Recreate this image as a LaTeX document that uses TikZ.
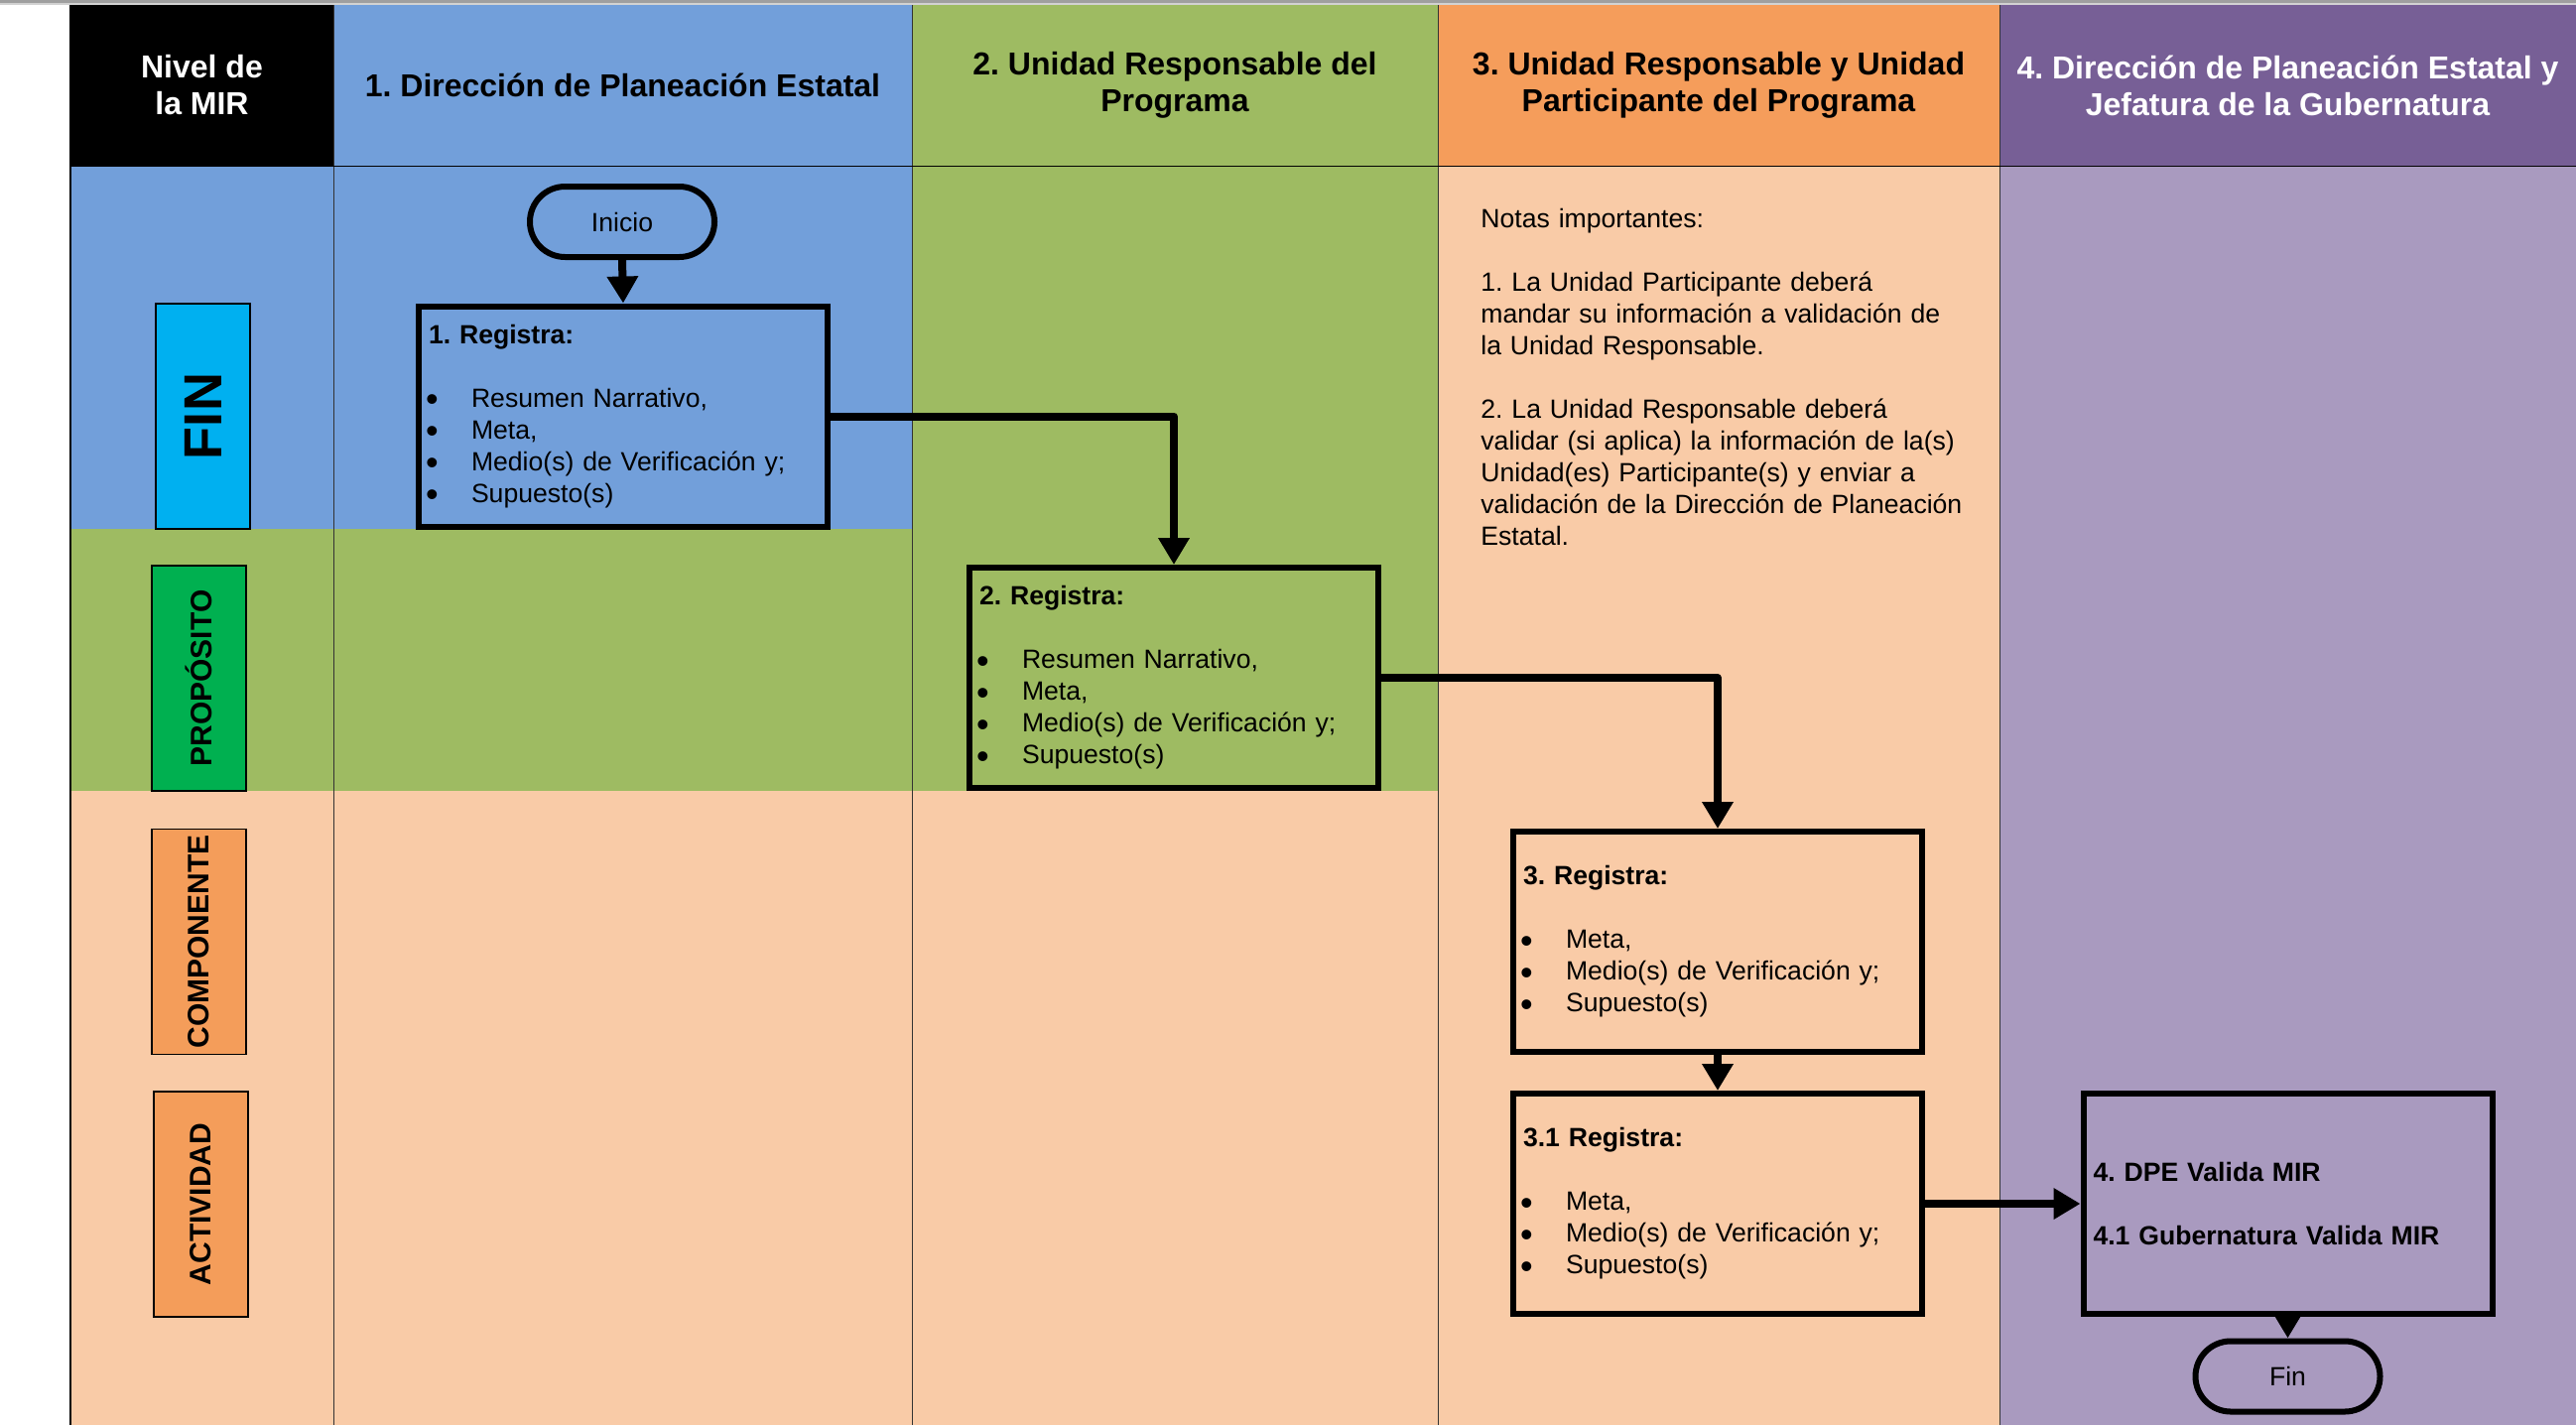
\documentclass[tikz,border=0pt]{standalone}
\usepackage{fontspec}
\setmainfont{Liberation Sans}
\usetikzlibrary{arrows.meta}
\definecolor{hblue}{HTML}{729FDA}
\definecolor{hgreen}{HTML}{9EBB62}
\definecolor{horange}{HTML}{F59D5B}
\definecolor{hpurple}{HTML}{775F96}
\definecolor{peach}{HTML}{F9CBA7}
\definecolor{lav}{HTML}{A99ABF}
\definecolor{cyanbox}{HTML}{00B0F0}
\definecolor{greenbox}{HTML}{00B050}
\definecolor{orangebox}{HTML}{F49D5A}
\newcommand\bitem{\makebox[21.5pt][l]{\hspace*{-1.5pt}\smash{\raisebox{-2.2pt}{\fontsize{18}{16}\selectfont •}}}}
\frenchspacing
\begin{document}
\frenchspacing
\begin{tikzpicture}[x=0.5pt,y=-0.5pt,
  hdr/.style={minimum width=#1, minimum height=81pt, inner sep=0pt, align=center,
    font=\fontsize{16}{18.5}\selectfont\bfseries},
  lab/.style={draw, line width=0.6pt, rotate=90, minimum width=113.5pt, minimum height=47.5pt,
    inner sep=0pt, font=\fontsize{15}{18}\selectfont\bfseries},
  flowbox/.style={draw, line width=3pt, minimum width=206pt, minimum height=111pt,
    text width=196pt, inner xsep=5pt, inner ysep=0pt, align=left,
    font=\fontsize{13.3}{16}\selectfont},
  term/.style={draw, line width=3pt, rounded corners=17.75pt, minimum width=93pt,
    minimum height=35.5pt, inner sep=0pt, font=\fontsize{13.3}{16}\selectfont},
  arr/.style={line width=4pt, -{Triangle[length=13.5pt,width=15pt]}, line join=round},
  divider/.style={line width=0.5pt, black!80}
]
\useasboundingbox (0,0) rectangle (2596,1436);
% top rule
\fill[gray!75] (0,0) rectangle (2596,2.5);
\fill[gray!35] (0,2.5) rectangle (2596,5);
% body backgrounds
\fill[hblue] (71,167) rectangle (919,533);
\fill[hgreen] (919,167) rectangle (1449,797);
\fill[hgreen] (71,533) rectangle (919,797);
\fill[peach] (71,797) rectangle (1449,1436);
\fill[peach] (1449,167) rectangle (2015,1436);
\fill[lav] (2015,167) rectangle (2596,1436);
% header cells
\node[hdr=132.5pt, fill=black, text=white] (h0) at (203.5,86) {Nivel de\\la MIR};
\node[hdr=291.5pt, fill=hblue] (h1) at (627.5,86) {1. Dirección de Planeación Estatal};
\node[hdr=265pt, fill=hgreen] (h2) at (1184,86) {2. Unidad Responsable del\\Programa};
\node[hdr=283pt, fill=horange] (h3) at (1732,86) {3. Unidad Responsable y Unidad\\Participante del Programa};
\node[hdr=290.5pt, fill=hpurple, text=white] (h4) at (2305.5,86) {4. Dirección de Planeación Estatal y\\Jefatura de la Gubernatura};
% grid lines
\draw[line width=0.8pt] (71,5) -- (71,1436);
\foreach \x in {336,919,1449,2015} \draw[divider] (\x,5) -- (\x,1436);
\draw[line width=0.8pt] (71,167.5) -- (2596,167.5);
% level labels
\node[lab, fill=cyanbox, font=\fontsize{27}{30}\selectfont\bfseries] (lfin) at (204.5,419.5) {FIN};
\node[lab, fill=greenbox] (lprop) at (200.5,683.5) {PROPÓSITO};
\node[lab, fill=orangebox] (lcomp) at (200.5,949) {COMPONENTE};
\node[lab, fill=orangebox] (lact) at (202.5,1213.5) {ACTIVIDAD};
% flow
\node[term] (inicio) at (627,223.5) {Inicio};
\node[flowbox] (b1) at (628,419.5) {{\bfseries 1. Registra:}\\[16pt]
\bitem Resumen Narrativo,\\
\bitem Meta,\\
\bitem Medio(s) de Verificación y;\\
\bitem Supuesto(s)};
\node[flowbox] (b2) at (1183,683) {{\bfseries 2. Registra:}\\[16pt]
\bitem Resumen Narrativo,\\
\bitem Meta,\\
\bitem Medio(s) de Verificación y;\\
\bitem Supuesto(s)};
\node[flowbox] (b3) at (1731,949) {{\bfseries 3. Registra:}\\[16pt]
\bitem Meta,\\
\bitem Medio(s) de Verificación y;\\
\bitem Supuesto(s)};
\node[flowbox] (b31) at (1731,1213) {{\bfseries 3.1 Registra:}\\[16pt]
\bitem Meta,\\
\bitem Medio(s) de Verificación y;\\
\bitem Supuesto(s)};
\node[flowbox] (b4) at (2305.5,1213) {{\bfseries 4. DPE Valida MIR}\\[16pt]
{\bfseries 4.1 Gubernatura Valida MIR}};
\node[term] (fin) at (2305.5,1387) {Fin};
% notes
\node[anchor=north west, inner sep=0pt, text width=260pt, align=left,
  font=\fontsize{13.3}{16}\selectfont] (notes) at (1492,210) {Notas importantes:\\[16pt]
1. La Unidad Participante deberá\\
mandar su información a validación de\\
la Unidad Responsable.\\[16pt]
2. La Unidad Responsable deberá\\
validar (si aplica) la información de la(s)\\
Unidad(es) Participante(s) y enviar a\\
validación de la Dirección de Planeación\\
Estatal.};
% connectors
\draw[arr] (inicio.south) -- (b1.north);
\draw[arr] (b1.east) -| (b2.north);
\draw[arr] (b2.east) -| (b3.north);
\draw[arr] (b3.south) -- (b31.north);
\draw[arr] (b31.east) -- (b4.west);
\draw[arr] (b4.south) -- (fin.north);
\end{tikzpicture}
\end{document}
